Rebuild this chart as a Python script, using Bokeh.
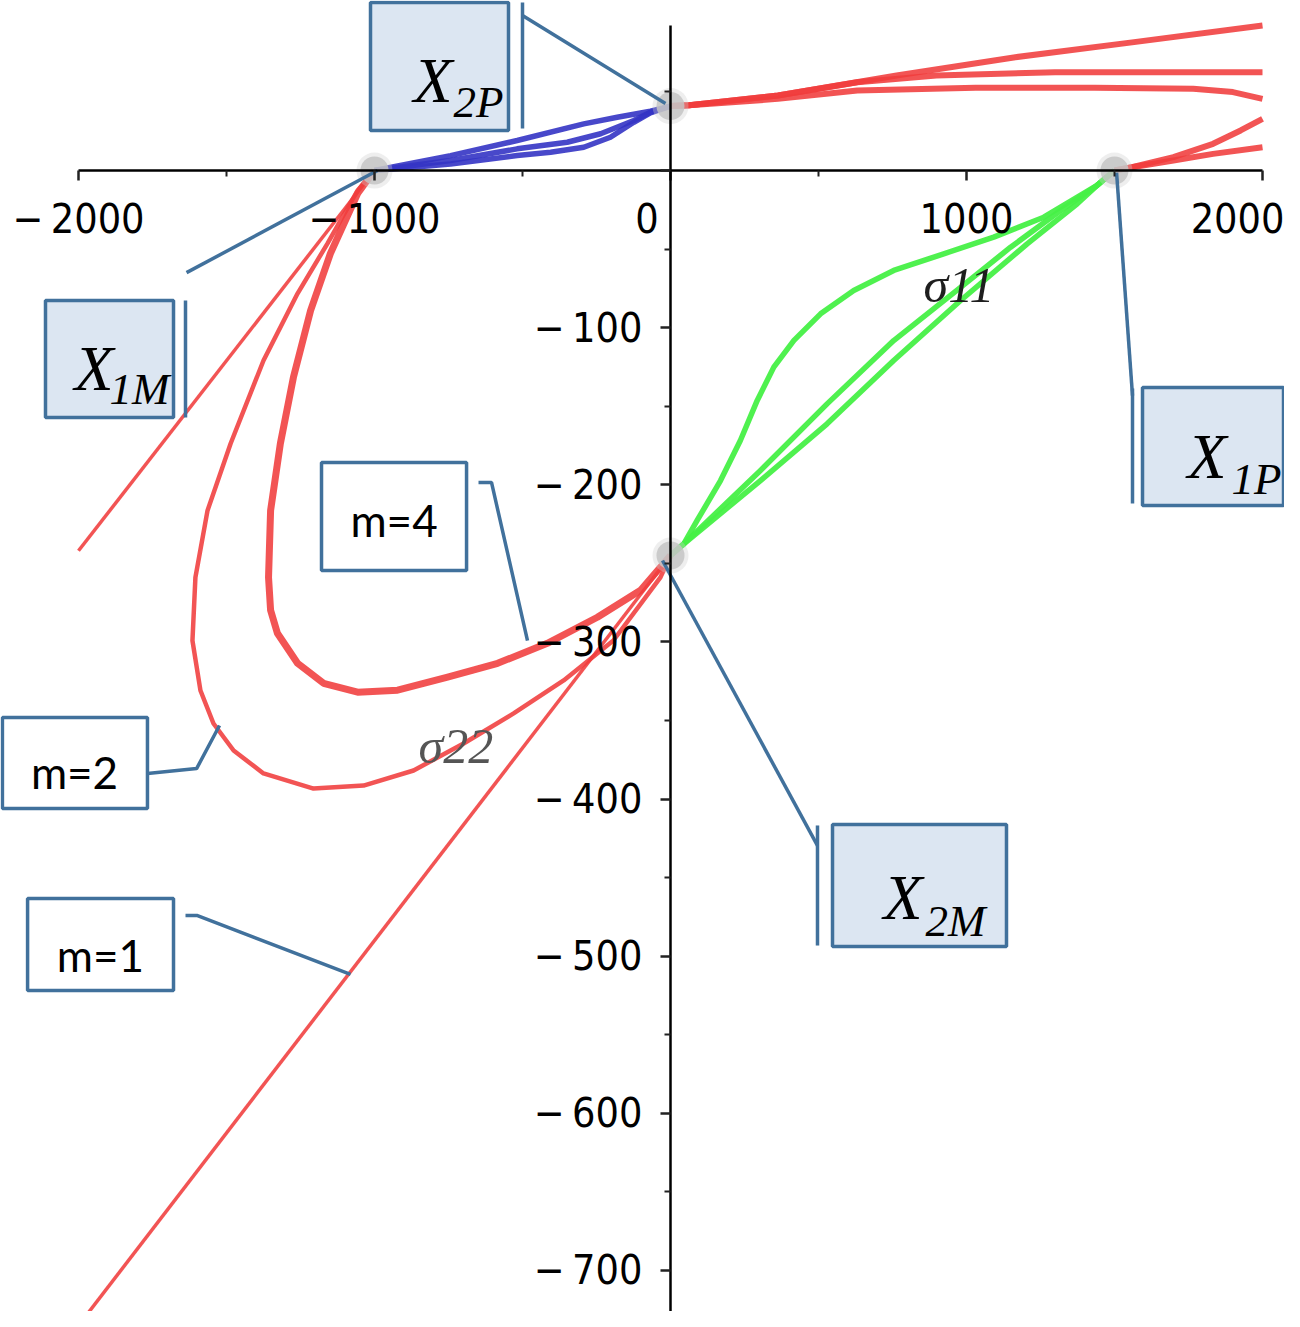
from bokeh.plotting import figure
from bokeh.models import Range1d, FixedTicker
from bokeh.core.properties import value
from bokeh.embed import file_html
from bokeh.resources import INLINE

# ---------------- axis ticks ----------------
x_ticks = [-2000, -1000, 0, 1000, 2000]
x_tick_labels = ["\u2212\u20092000", "\u2212\u20091000", "0\u2007\u2007", "1000", "2000"]
x_minor = [-1500, -500, 500, 1500]
y_ticks = [-700, -600, -500, -400, -300, -200, -100, 0]
y_tick_labels = ["\u2212\u2009700", "\u2212\u2009600", "\u2212\u2009500", "\u2212\u2009400",
                 "\u2212\u2009300", "\u2212\u2009200", "\u2212\u2009100", ""]
y_minor = [-650, -550, -450, -350, -250, -150, -50, 50]

# ---------------- special points ----------------
pt_names = ["X1M", "X2P", "X1P", "X2M"]
pt_x = [-1000, 0, 1500, 0]
pt_y = [0, 41, 0, -245]

# ---------------- red curves (lower left) ----------------
branch_x = [-1000, -2000]
branch_y = [0, -242]
m1_x = [0, -2000]
m1_y = [-245, -735]
m2_x = [-1000, -1057, -1159, -1260, -1375, -1486, -1564, -1605, -1615, -1588, -1544, -1476,
        -1375, -1206, -1037, -868, -699, -530, -361, -193, -34, 0]
m2_y = [0, -12.7, -46.5, -78.3, -120.9, -173.7, -216.3, -258.9, -299.1, -330.9, -351.9, -369.1,
        -383.7, -393.3, -391.4, -381.8, -364.6, -345.5, -324.5, -299.1, -258.9, -245]
m4_x = [-1000, -1057, -1149, -1216, -1274, -1318, -1351, -1358, -1351, -1328, -1260, -1172,
        -1057, -922, -753, -584, -416, -247, -101, 0]
m4_y = [0, -14.6, -52.8, -89.1, -131.7, -173.7, -216.3, -258.9, -279.9, -294.5, -313.6, -326.3,
        -332.0, -330.7, -322.4, -313.6, -300.9, -284.3, -267.1, -245]

# ---------------- red curves (upper right) ----------------
ra_x = [0, 63, 363, 764, 1165, 1566, 2000]
ra_y = [41, 41.5, 47.7, 60.5, 72.1, 81.7, 92.3]
rb_x = [0, 63, 363, 631, 898, 1299, 2000]
rb_y = [41, 41.5, 47.7, 56.2, 60.5, 62.6, 62.6]
rc_x = [0, 63, 363, 631, 1031, 1432, 1766, 1900, 2000]
rc_y = [41, 41.5, 45.6, 50.9, 52.6, 52.6, 52.0, 49.9, 45.6]
rd_x = [1500, 1559, 1699, 1833, 1926, 2000]
rd_y = [0, 2.1, 8.5, 17.0, 25.5, 32.9]
re_x = [1500, 1559, 1699, 1833, 2000]
re_y = [0, 2.1, 6.4, 10.6, 14.8]

# ---------------- blue curves ----------------
b1_x = [-1000, -743, -518, -293, -180, -68, 0]
b1_y = [0, 9.5, 19.1, 29.7, 33.9, 37.7, 41]
b2_x = [-1000, -743, -518, -349, -236, -124, -68, 0]
b2_y = [0, 6.4, 13.8, 18.0, 23.4, 31.8, 37.1, 41]
b3_x = [-1000, -743, -518, -405, -293, -203, -124, -68, 0]
b3_y = [0, 4.2, 9.5, 11.6, 14.8, 21.2, 30.7, 36.7, 41]

# ---------------- green curves ----------------
g1_x = [0, 45, 90, 169, 236, 293, 349, 417, 507, 619, 754, 923, 1092, 1261, 1441, 1500]
g1_y = [-245, -237.6, -222.7, -197.3, -171.8, -146.3, -125.1, -108.1, -91.2, -76.4, -63.6,
        -53.0, -42.4, -29.7, -9.5, 0]
g2_x = [0, 45, 304, 529, 754, 980, 1149, 1318, 1441, 1500]
g2_y = [-245, -237.6, -190.9, -148.5, -108.2, -74.3, -48.8, -25.5, -9.5, 0]
g3_x = [0, 45, 304, 529, 754, 980, 1205, 1374, 1441, 1500]
g3_y = [-245, -237.6, -197.3, -161.2, -120.9, -82.7, -46.7, -21.2, -9.5, 0]

# ---------------- curve labels ----------------
sig_text = ["\u03c311", "\u03c322"]
sig_x = [855, -851]
sig_y = [-73, -366]

RED = "#f03c3c"
GREEN = "#46f046"
BLUE = "#3434c4"
EDGE = "#41719c"
LIGHT = "#dce6f2"

p = figure(width=1284, height=1311, output_backend="svg", toolbar_location=None,
           x_range=Range1d(-2263.5, 2074.3), y_range=Range1d(-726.1, 108.2),
           min_border=0, min_border_left=0, min_border_right=0,
           min_border_top=0, min_border_bottom=0)
p.outline_line_color = None
p.xgrid.visible = False
p.ygrid.visible = False
p.background_fill_color = "white"

AX_FONT = "'Liberation Sans Narrow', 'DejaVu Sans Condensed', 'Roboto Condensed', sans-serif"

xa = p.xaxis[0]
xa.fixed_location = 0
xa.bounds = (-2000, 2000)
xa.ticker = FixedTicker(ticks=x_ticks, minor_ticks=x_minor)
xa.major_label_overrides = {t: l for t, l in zip(x_ticks, x_tick_labels)}
ya = p.yaxis[0]
ya.fixed_location = 0
ya.bounds = (-735, 92)
ya.ticker = FixedTicker(ticks=y_ticks, minor_ticks=y_minor)
ya.major_label_overrides = {t: l for t, l in zip(y_ticks, y_tick_labels)}
for ax in (xa, ya):
    ax.axis_line_color = "black"
    ax.axis_line_width = 2.5
    ax.major_tick_line_color = "#222222"
    ax.major_tick_line_width = 2.5
    ax.major_tick_in = 0
    ax.major_tick_out = 10
    ax.minor_tick_line_color = "#222222"
    ax.minor_tick_line_width = 2
    ax.minor_tick_in = 0
    ax.minor_tick_out = 6
    ax.major_label_text_font = AX_FONT
    ax.major_label_text_font_size = "41px"
    ax.major_label_text_color = "black"
xa.major_label_standoff = 14
ya.major_label_standoff = 18

# curves
for xs, ys, w in [(branch_x, branch_y, 3.5), (m1_x, m1_y, 3.5), (m2_x, m2_y, 4.5), (m4_x, m4_y, 7),
                  (ra_x, ra_y, 6), (rb_x, rb_y, 6), (rc_x, rc_y, 6), (rd_x, rd_y, 6), (re_x, re_y, 6)]:
    p.line(xs, ys, line_color=RED, line_width=w, line_alpha=0.88, line_join="round")
for xs, ys in [(b1_x, b1_y), (b2_x, b2_y), (b3_x, b3_y)]:
    p.line(xs, ys, line_color=BLUE, line_width=5.5, line_alpha=0.9, line_join="round")
for xs, ys in [(g1_x, g1_y), (g2_x, g2_y), (g3_x, g3_y)]:
    p.line(xs, ys, line_color=GREEN, line_width=5.5, line_alpha=0.95, line_join="round")

# special points
p.scatter(pt_x, pt_y, size=36, fill_color="#cfcfcf", fill_alpha=0.35, line_color=None)
p.scatter(pt_x, pt_y, size=28, fill_color="#c4c4c4", fill_alpha=0.85, line_color=None)

# sigma labels
p.text(sig_x, sig_y, text=sig_text, text_font=value("Liberation Serif"), text_font_style="italic",
       text_font_size="50px", text_color=["#1e1e1e", "#555555"], text_baseline="alphabetic",
       text_align="left")

# ---------------- call-outs (annotations) ----------------
callouts = [
    dict(box=(-1013.5, -547.3, 106.9, 25.5), bar=(-500, 106.9, 26.7),
         lx=[-500, -17], ly=[98.7, 42.6], main="X", sub="2P", mp=(-868, 57.5), sp=(-733, 43.5)),
    dict(box=(-2111.5, -1679, -82.7, -157.2), bar=(-1638.5, -82.7, -157.2),
         lx=[-1635, -990], ly=[-65.0, 0], main="X", sub="1M", mp=(-2013.5, -126), sp=(-1895, -139)),
    dict(box=(1594.6, 2071, -138.1, -213.2), bar=(1560.8, -138.7, -211.9),
         lx=[1507, 1560.8], ly=[-1.3, -143.2], main="X", sub="1P", mp=(1746.6, -182), sp=(1895, -196.4)),
    dict(box=(547.3, 1135.1, -416.2, -493.8), bar=(496.6, -416.8, -493.2),
         lx=[-27, 496.6], ly=[-248.2, -429.6], main="X", sub="2M", mp=(719.6, -462.5), sp=(861.5, -477.7)),
]
for c in callouts:
    l, r, t, b = c["box"]
    p.quad(left=[l], right=[r], top=[t], bottom=[b], fill_color=LIGHT, line_color=EDGE, line_width=3.5)
    bx, by0, by1 = c["bar"]
    p.segment(x0=[bx], y0=[by0], x1=[bx], y1=[by1], line_color=EDGE, line_width=3.5)
    p.line(c["lx"], c["ly"], line_color=EDGE, line_width=3.5)
    p.text([c["mp"][0]], [c["mp"][1]], text=[c["main"]], text_font=value("Liberation Serif"),
           text_font_style="italic", text_font_size="64px", text_color="black",
           text_baseline="alphabetic", text_align="left")
    p.text([c["sp"][0]], [c["sp"][1]], text=[c["sub"]], text_font=value("Liberation Serif"),
           text_font_style="italic", text_font_size="45px", text_color="black",
           text_baseline="alphabetic", text_align="left")

m_boxes = [
    dict(box=(-1179, -689, -185.8, -254.6), lx=[-648.6, -604.7, -483.1], ly=[-198.5, -198.5, -299.1],
         txt="m=4", tp=(-934, -222.5)),
    dict(box=(-2257, -1767, -348.1, -406), lx=[-1767, -1601, -1523.6], ly=[-383.7, -380.6, -353.2],
         txt="m=2", tp=(-2013.5, -382.9)),
    dict(box=(-2172, -1679, -463.3, -521.8), lx=[-1638.5, -1598, -1081], ly=[-474.1, -474.1, -511.6],
         txt="m=1", tp=(-1925.7, -499.3)),
]
for c in m_boxes:
    l, r, t, b = c["box"]
    p.quad(left=[l], right=[r], top=[t], bottom=[b], fill_color="white", line_color=EDGE, line_width=3.5)
    p.line(c["lx"], c["ly"], line_color=EDGE, line_width=3.5)
    p.text([c["tp"][0]], [c["tp"][1]], text=[c["txt"]], text_font=value("Lato"),
           text_font_size="44px", text_color="black", text_baseline="alphabetic", text_align="center")

open("out.html", "w").write(file_html(p, INLINE))
